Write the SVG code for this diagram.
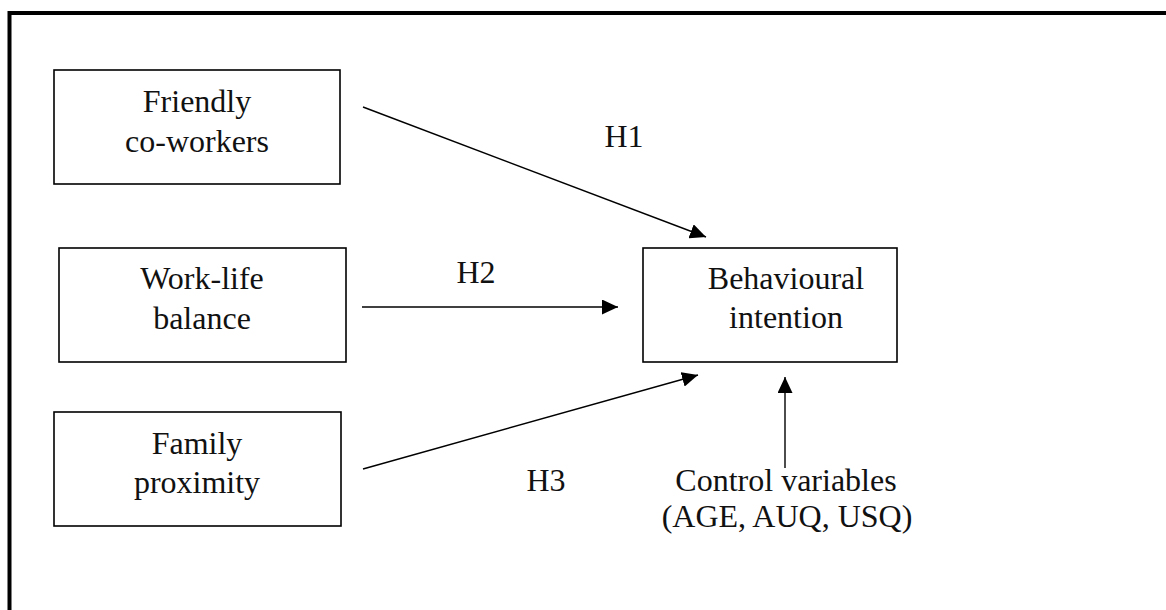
<svg xmlns="http://www.w3.org/2000/svg" width="1166" height="610" viewBox="0 0 1166 610">
  <style>
    .box { fill: #ffffff; stroke: #000000; stroke-width: 1.6; }
    .lbl { font-family: "Liberation Serif", "Times New Roman", serif; font-size: 32px; fill: #111111; text-anchor: middle; }
    .edge { stroke: #000000; stroke-width: 1.4; fill: none; marker-end: url(#arrow); }
  </style>
  <defs>
    <marker id="arrow" markerUnits="userSpaceOnUse" markerWidth="17" markerHeight="15" refX="16" refY="7.5" orient="auto">
      <path d="M0,0 L16,7.5 L0,15 z" fill="#000000"/>
    </marker>
  </defs>
  <rect x="0" y="0" width="1166" height="610" fill="#ffffff"/>
  <path d="M9.5,610 V13 H1166" fill="none" stroke="#000000" stroke-width="4"/>

  <g id="friendly">
    <rect class="box" x="54" y="70" width="286" height="114"/>
    <text class="lbl" x="197" y="112">Friendly</text>
    <text class="lbl" x="197" y="152">co-workers</text>
  </g>
  <g id="worklife">
    <rect class="box" x="59" y="248" width="287" height="114"/>
    <text class="lbl" x="202" y="289">Work-life</text>
    <text class="lbl" x="202" y="329">balance</text>
  </g>
  <g id="family">
    <rect class="box" x="54" y="412" width="287" height="114"/>
    <text class="lbl" x="197" y="454">Family</text>
    <text class="lbl" x="197" y="493">proximity</text>
  </g>
  <g id="behavioural">
    <rect class="box" x="643" y="248" width="254" height="114"/>
    <text class="lbl" x="786" y="289">Behavioural</text>
    <text class="lbl" x="786" y="328">intention</text>
  </g>
  <g id="control">
    <text class="lbl" x="786" y="491">Control variables</text>
    <text class="lbl" x="787" y="527">(AGE, AUQ, USQ)</text>
  </g>

  <g id="connectors">
    <line class="edge" x1="363" y1="107" x2="706" y2="237"/>
    <line class="edge" x1="362" y1="307" x2="618" y2="307"/>
    <line class="edge" x1="363" y1="469" x2="698" y2="375"/>
    <line class="edge" x1="785" y1="468" x2="785" y2="377"/>
    <text class="lbl" x="624" y="147">H1</text>
    <text class="lbl" x="476" y="283">H2</text>
    <text class="lbl" x="546" y="491">H3</text>
  </g>
</svg>
